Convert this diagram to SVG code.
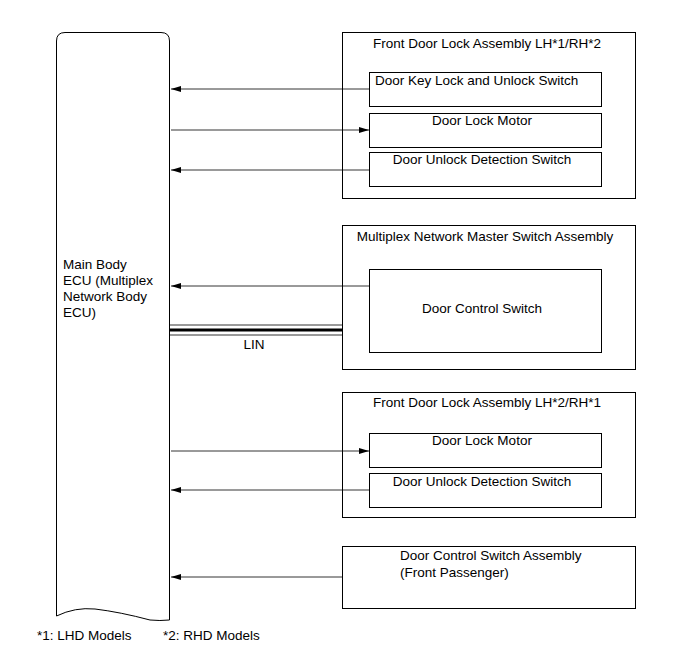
<svg xmlns="http://www.w3.org/2000/svg" width="690" height="660" viewBox="0 0 690 660">
<style>
  .box { fill: #fff; stroke: #000; stroke-width: 1; }
  .t { font-family: "Liberation Sans", Arial, sans-serif; font-size: 13.5px; fill: #000; }
  .m { text-anchor: middle; }
  .ln { stroke: #000; stroke-width: 0.8; fill: none; }
</style>
<defs>
  <marker id="ah" viewBox="0 0 10 6" refX="10" refY="3" markerWidth="10" markerHeight="6" markerUnits="userSpaceOnUse" orient="auto">
    <path d="M0,0 L10,3 L0,6 Z" fill="#000"/>
  </marker>
</defs>
<rect width="690" height="660" fill="#fff"/>

<g id="ecu">
  <path class="box" d="M56.5,616 L56.5,41 Q56.5,32.5 65,32.5 L161,32.5 Q169.5,32.5 169.5,41 L169.5,620 Q160,621 150,620 Q120,612 95,609 Q75,607 56.5,616 Z"/>
  <text class="t" x="63" y="269">Main Body</text>
  <text class="t" x="63" y="285">ECU (Multiplex</text>
  <text class="t" x="63" y="301">Network Body</text>
  <text class="t" x="63" y="317">ECU)</text>
</g>

<g id="fdl1">
  <rect class="box" x="342.5" y="32.5" width="293" height="166"/>
  <text class="t m" x="487" y="48">Front Door Lock Assembly LH*1/RH*2</text>
  <g id="fdl1-key">
    <rect class="box" x="369.5" y="72.5" width="232" height="34"/>
    <text class="t" x="375" y="85">Door Key Lock and Unlock Switch</text>
  </g>
  <g id="fdl1-motor">
    <rect class="box" x="369.5" y="113.5" width="232" height="34"/>
    <text class="t m" x="482" y="125">Door Lock Motor</text>
  </g>
  <g id="fdl1-unlock">
    <rect class="box" x="369.5" y="152.5" width="232" height="34"/>
    <text class="t m" x="482" y="164">Door Unlock Detection Switch</text>
  </g>
</g>

<g id="mnms">
  <rect class="box" x="342.5" y="225.5" width="293" height="144"/>
  <text class="t m" x="485" y="241">Multiplex Network Master Switch Assembly</text>
  <g id="mnms-dcs">
    <rect class="box" x="369.5" y="269.5" width="232" height="83"/>
    <text class="t m" x="482" y="313">Door Control Switch</text>
  </g>
</g>

<g id="fdl2">
  <rect class="box" x="342.5" y="392.5" width="293" height="125"/>
  <text class="t m" x="487" y="407">Front Door Lock Assembly LH*2/RH*1</text>
  <g id="fdl2-motor">
    <rect class="box" x="369.5" y="433.5" width="232" height="34"/>
    <text class="t m" x="482" y="445">Door Lock Motor</text>
  </g>
  <g id="fdl2-unlock">
    <rect class="box" x="369.5" y="473.5" width="232" height="34"/>
    <text class="t m" x="482" y="486">Door Unlock Detection Switch</text>
  </g>
</g>

<g id="dcsa">
  <rect class="box" x="342.5" y="546.5" width="293" height="62"/>
  <text class="t" x="400" y="560">Door Control Switch Assembly</text>
  <text class="t" x="400" y="577">(Front Passenger)</text>
</g>

<g id="connectors">
  <line class="ln" x1="369" y1="89" x2="171" y2="89" marker-end="url(#ah)"/>
  <line class="ln" x1="171" y1="130" x2="369" y2="130" marker-end="url(#ah)"/>
  <line class="ln" x1="369" y1="170" x2="171" y2="170" marker-end="url(#ah)"/>
  <line class="ln" x1="369" y1="286" x2="171" y2="286" marker-end="url(#ah)"/>
  <line x1="170" y1="325" x2="342" y2="325" stroke="#000" stroke-width="0.8"/>
  <line x1="170" y1="330" x2="342" y2="330" stroke="#000" stroke-width="3"/>
  <line x1="170" y1="335" x2="342" y2="335" stroke="#000" stroke-width="0.8"/>
  <text class="t m" x="254" y="349">LIN</text>
  <line class="ln" x1="171" y1="451" x2="369" y2="451" marker-end="url(#ah)"/>
  <line class="ln" x1="369" y1="490" x2="171" y2="490" marker-end="url(#ah)"/>
  <line class="ln" x1="342" y1="577" x2="171" y2="577" marker-end="url(#ah)"/>
</g>

<g id="notes">
  <text class="t" x="37" y="640">*1: LHD Models</text>
  <text class="t" x="163" y="640">*2: RHD Models</text>
</g>
</svg>
